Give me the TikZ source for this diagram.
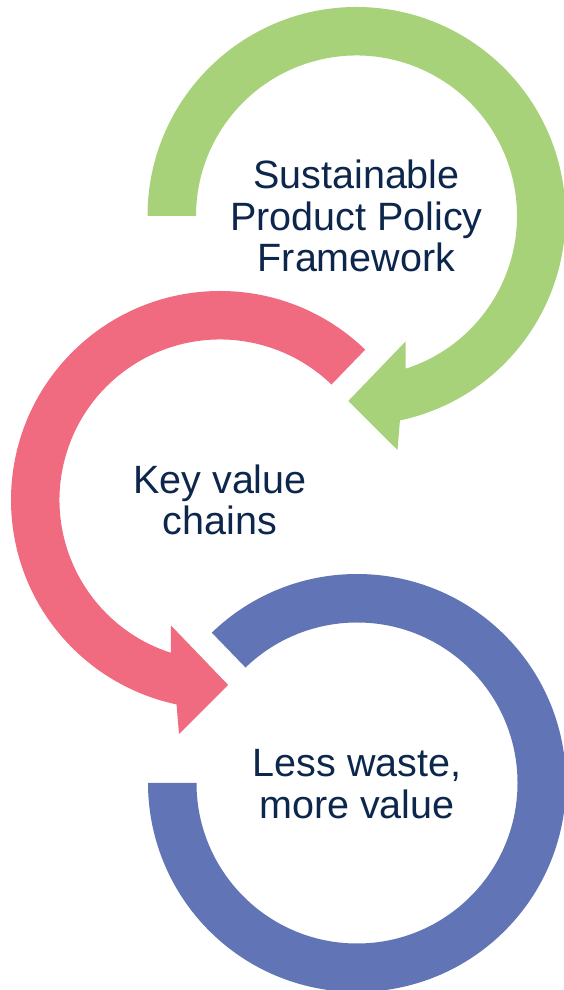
\documentclass[tikz,border=0pt]{standalone}
\usepackage{fontspec}
\setmainfont{Liberation Sans}
\usetikzlibrary{calc}
\definecolor{ringgreen}{RGB}{167,210,122}
\definecolor{ringpink}{RGB}{240,107,127}
\definecolor{ringblue}{RGB}{97,117,182}
\definecolor{textnavy}{RGB}{13,38,76}
\tikzset{
  label text/.style={text=textnavy, align=center, inner sep=0pt,
    font=\fontsize{39.5pt}{41.7pt}\selectfont}
}
\begin{document}
\begin{tikzpicture}[x=1pt,y=1pt]
\useasboundingbox (0,0) rectangle (563,990);
\coordinate (G) at (356.5,774);
\coordinate (P) at (220,490);
\coordinate (B) at (357,207);
% green ring with arrowhead (clockwise)
\fill[ringgreen] ($(G)+(180:209pt)$) arc[start angle=180, end angle=-78, radius=209pt]
  -- ($(G)+(41pt,-234pt)$) -- ($(G)+(-8.2pt,-185pt)$) -- ($(G)+(49pt,-125.5pt)$)
  -- ($(G)+(-72.13:160.5pt)$) arc[start angle=-72.13, end angle=180, radius=160.5pt] -- cycle;
% pink ring with arrowhead (counter-clockwise)
\fill[ringpink] ($(P)+(46:209pt)$) arc[start angle=46, end angle=258, radius=209pt]
  -- ($(P)+(-41pt,-234pt)$) -- ($(P)+(8.2pt,-185pt)$) -- ($(P)+(-49pt,-125.5pt)$)
  -- ($(P)+(252.13:160.5pt)$) arc[start angle=252.13, end angle=46, radius=160.5pt] -- cycle;
% blue ring
\fill[ringblue] ($(B)+(134:209pt)$) arc[start angle=134, end angle=-180, radius=209pt]
  -- ($(B)+(-180:160.5pt)$) arc[start angle=-180, end angle=134, radius=160.5pt] -- cycle;
% labels
\node[label text] (tg) at (G) {Sustainable\\Product Policy\\Framework};
\node[label text] (tp) at (P) {Key value\\chains};
\node[label text] (tb) at ($(B)+(0,-1)$) {Less waste,\\more value};
\end{tikzpicture}
\end{document}
